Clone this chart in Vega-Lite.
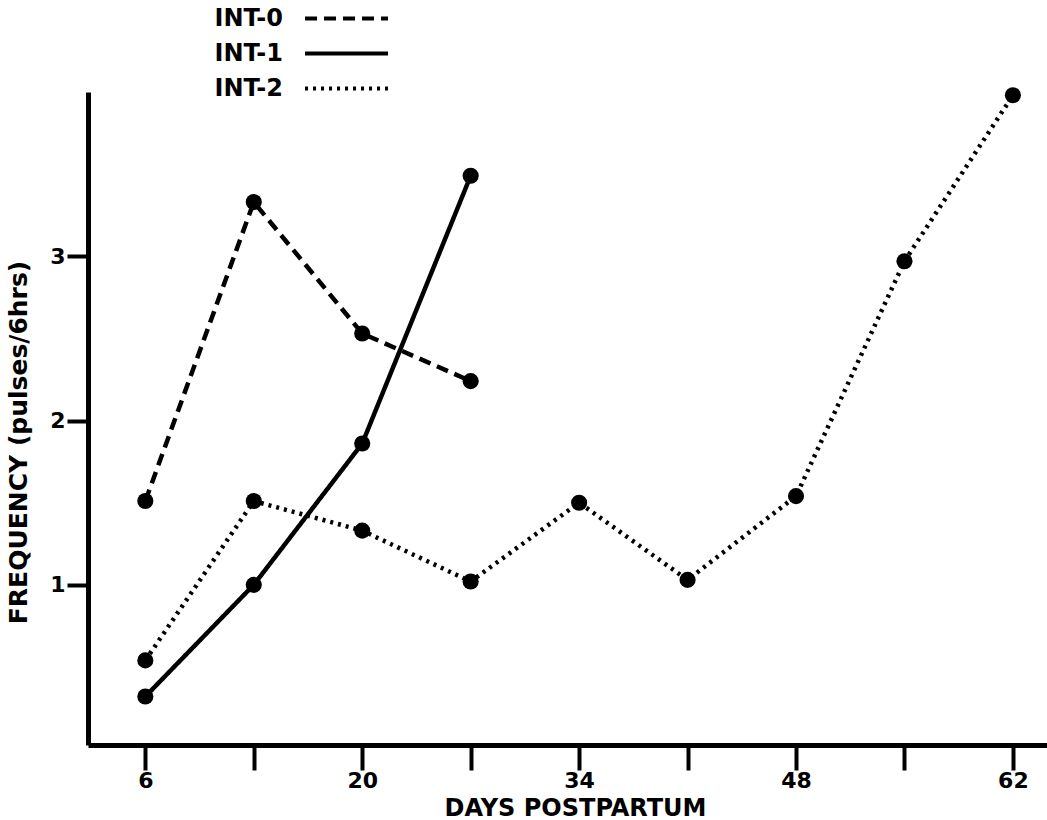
{
  "$schema": "https://vega.github.io/schema/vega-lite/v6.json",
  "width": 959,
  "height": 653,
  "autosize": {"type": "none"},
  "padding": {"left": 88, "top": 92, "right": 0, "bottom": 75},
  "background": "white",
  "config": {"view": {"stroke": null}, "font": "DejaVu Sans"},
  "data": {
    "values": [
      {"group": "INT-0", "day": 6, "freq": 1.51},
      {"group": "INT-0", "day": 13, "freq": 3.33},
      {"group": "INT-0", "day": 20, "freq": 2.53},
      {"group": "INT-0", "day": 27, "freq": 2.24},
      {"group": "INT-1", "day": 6, "freq": 0.32},
      {"group": "INT-1", "day": 13, "freq": 1.0},
      {"group": "INT-1", "day": 20, "freq": 1.86},
      {"group": "INT-1", "day": 27, "freq": 3.49},
      {"group": "INT-2", "day": 6, "freq": 0.54},
      {"group": "INT-2", "day": 13, "freq": 1.51},
      {"group": "INT-2", "day": 20, "freq": 1.33},
      {"group": "INT-2", "day": 27, "freq": 1.02},
      {"group": "INT-2", "day": 34, "freq": 1.5},
      {"group": "INT-2", "day": 41, "freq": 1.03},
      {"group": "INT-2", "day": 48, "freq": 1.54},
      {"group": "INT-2", "day": 55, "freq": 2.97},
      {"group": "INT-2", "day": 62, "freq": 3.98}
    ]
  },
  "layer": [
    {
      "mark": {"type": "line", "color": "black", "strokeWidth": 4.5},
      "encoding": {
        "x": {
          "field": "day", "type": "quantitative",
          "scale": {"domain": [2.3, 64.2], "nice": false, "zero": false},
          "axis": {
            "title": "DAYS POSTPARTUM",
            "values": [6, 13, 20, 27, 34, 41, 48, 55, 62],
            "labelExpr": "datum.value % 14 == 6 ? datum.label : ''",
            "grid": false,
            "domainColor": "black", "domainWidth": 5,
            "tickColor": "black", "tickWidth": 4, "tickSize": 25,
            "labelFontSize": 22, "labelFontWeight": "bold", "labelColor": "black",
            "labelPadding": 0, "labelBaseline": "top", "labelFlush": false,
            "titleFontSize": 24, "titleFontWeight": "bold", "titleColor": "black",
            "titleX": 487, "titleY": 70, "titleBaseline": "alphabetic", "titleAlign": "center"
          }
        },
        "y": {
          "field": "freq", "type": "quantitative",
          "scale": {"domain": [0.025, 4.0], "nice": false, "zero": false},
          "axis": {
            "title": "FREQUENCY (pulses/6hrs)",
            "values": [1, 2, 3],
            "format": "d",
            "grid": false,
            "domainColor": "black", "domainWidth": 5,
            "tickColor": "black", "tickWidth": 4, "tickSize": 21,
            "labelFontSize": 22, "labelFontWeight": "bold", "labelColor": "black",
            "labelPadding": 2,
            "titleFontSize": 25, "titleFontWeight": "bold", "titleColor": "black",
            "titleX": -70, "titleY": 350, "titleAngle": -90, "titleBaseline": "middle", "titleAlign": "center"
          }
        },
        "strokeDash": {
          "field": "group", "type": "nominal",
          "scale": {"domain": ["INT-0", "INT-1", "INT-2"], "range": [[12, 7], [1, 0], [3, 5]]},
          "legend": {
            "title": null,
            "orient": "none", "legendX": 246, "legendY": -86,
            "symbolType": "M-4,0H4", "symbolSize": 430, "symbolStrokeWidth": 4, "symbolStrokeColor": "black",
            "labelFontSize": 24, "labelFontWeight": "bold", "labelColor": "black",
            "labelAlign": "right", "labelOffset": -76, "labelLimit": 200,
            "rowPadding": 10, "padding": 0
          }
        },
        "order": {"field": "day"}
      }
    },
    {
      "mark": {"type": "circle", "color": "black", "opacity": 1, "size": 260},
      "encoding": {
        "x": {"field": "day", "type": "quantitative"},
        "y": {"field": "freq", "type": "quantitative"}
      }
    }
  ]
}
